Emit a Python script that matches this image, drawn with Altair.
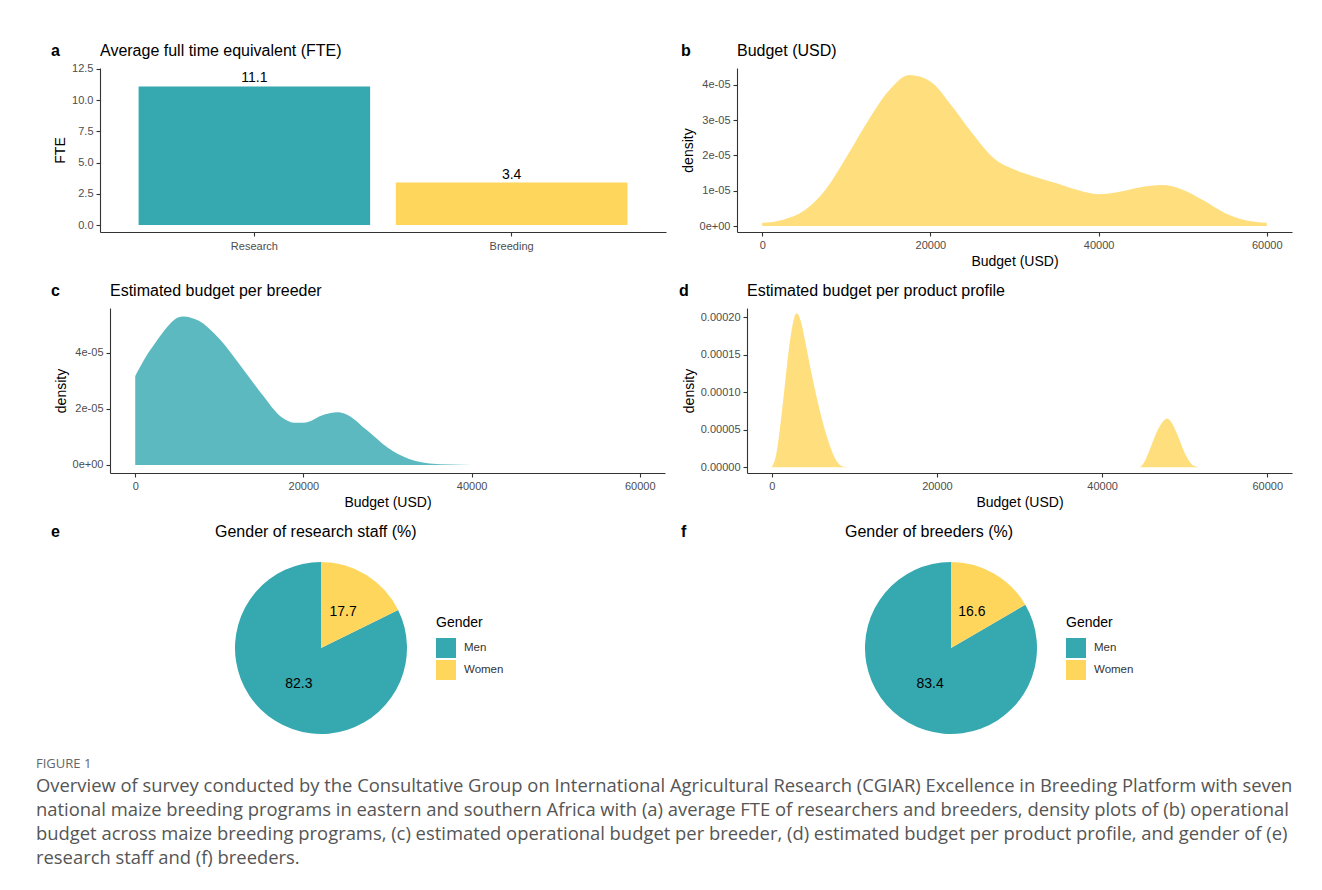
import altair as alt
import pandas as pd

TEAL = "#35A8B0"
YELLOW = "#FFD65C"
FONT = "Liberation Sans"
CAP_FONT = "Open Sans"

# ---- data ----
fte_roles = ["Research", "Breeding"]
fte_values = [11.1, 3.4]

budget_usd = [0, 2500, 5000, 7500, 10000, 12500, 15000, 17500, 20000, 22500, 25000,
              27500, 30000, 32500, 35000, 37500, 40000, 42500, 45000, 47500, 50000,
              52500, 55000, 57500, 60000]
budget_density = [0.09e-5, 0.18e-5, 0.44e-5, 1.02e-5, 1.95e-5, 2.95e-5, 3.82e-5, 4.28e-5,
                  4.10e-5, 3.42e-5, 2.62e-5, 1.93e-5, 1.60e-5, 1.39e-5, 1.21e-5, 1.02e-5,
                  0.90e-5, 0.97e-5, 1.10e-5, 1.16e-5, 1.03e-5, 0.72e-5, 0.37e-5, 0.16e-5,
                  0.09e-5]

breeder_usd = [0, 1250, 2500, 3750, 5000, 5750, 7500, 10000, 12500, 15000, 17500, 19000,
               20000, 22500, 24000, 25000, 27500, 30000, 32500, 35000, 37500, 40000, 60000]
breeder_density = [3.17e-5, 3.85e-5, 4.40e-5, 4.90e-5, 5.25e-5, 5.30e-5, 5.15e-5, 4.50e-5,
                   3.55e-5, 2.55e-5, 1.68e-5, 1.50e-5, 1.50e-5, 1.80e-5, 1.88e-5, 1.82e-5,
                   1.25e-5, 0.62e-5, 0.22e-5, 0.05e-5, 0.01e-5, 0.0, 0.0]

profile_usd = [0, 500, 1250, 2000, 2500, 3000, 3500, 4000, 4700, 5700, 6700, 7650, 8600,
               9500, 44500, 45000, 45700, 46700, 47300, 47900, 48500, 49100, 50100, 51100,
               52000, 60000]
profile_density = [0.0, 1.5e-5, 7.6e-5, 15.0e-5, 18.8e-5, 20.5e-5, 19.5e-5, 17.0e-5, 13.1e-5,
                   8.1e-5, 4.0e-5, 1.2e-5, 0.1e-5, 0.0, 0.0, 0.5e-5, 2.15e-5, 4.9e-5,
                   6.0e-5, 6.5e-5, 5.8e-5, 4.4e-5, 1.7e-5, 0.2e-5, 0.0, 0.0]

genders = ["Men", "Women"]
research_staff_pct = [82.3, 17.7]
breeders_pct = [83.4, 16.6]

caption_head = "FIGURE 1"
caption_lines = [
    "Overview of survey conducted by the Consultative Group on International Agricultural Research (CGIAR) Excellence in Breeding Platform with seven",
    "national maize breeding programs in eastern and southern Africa with (a) average FTE of researchers and breeders, density plots of (b) operational",
    "budget across maize breeding programs, (c) estimated operational budget per breeder, (d) estimated budget per product profile, and gender of (e)",
    "research staff and (f) breeders.",
]

BUDGET_TICKS = [0, 20000, 40000, 60000]
FTE_TICKS = [0, 2.5, 5, 7.5, 10, 12.5]


def note(text, dx, dy, size=16, weight="normal"):
    """Panel letter / panel heading, placed relative to the panel's plot area."""
    return alt.Chart(pd.DataFrame({"t": [text]})).mark_text(
        align="left", baseline="middle", fontSize=size, fontWeight=weight,
        font=FONT, color="black"
    ).encode(x=alt.value(dx), y=alt.value(dy), text="t:N")


def spacer():
    return alt.Chart(pd.DataFrame({"t": [""]})).mark_text().encode(
        text="t:N").properties(width=1, height=1)


SCI = ("datum.value == 0 ? '0e+00' : "
       "format(round(datum.value * 100000), 'd') + 'e-05'")


def density_panel(xs, ys, color, ydomain, yticks, ylabel_expr, yformat,
                  width, height, title, letter, ldx):
    df = pd.DataFrame({"usd": xs, "density": ys})
    yaxis_kwargs = dict(title="density", values=yticks)
    if ylabel_expr:
        yaxis_kwargs["labelExpr"] = ylabel_expr
    else:
        yaxis_kwargs["format"] = yformat
    area = alt.Chart(df).mark_area(color=color, opacity=0.8, interpolate="monotone").encode(
        x=alt.X("usd:Q", scale=alt.Scale(domain=[-3000, 63000], nice=False, zero=False),
                axis=alt.Axis(title="Budget (USD)", values=BUDGET_TICKS, format="d")),
        y=alt.Y("density:Q", scale=alt.Scale(domain=ydomain, nice=False, zero=False),
                axis=alt.Axis(**yaxis_kwargs)),
        y2=alt.datum(0),
    )
    return alt.layer(area, note(letter, ldx, -17, weight="bold"), note(title, 0, -17)).properties(
        width=width, height=height)


# ---- panel a ----
df_a = pd.DataFrame({"role": fte_roles, "fte": fte_values})
xa = alt.X("role:N", sort=fte_roles,
           scale=alt.Scale(paddingInner=0.1, paddingOuter=0.15),
           axis=alt.Axis(title=None, labelAngle=0, labelPadding=4))
ya = alt.Y("fte:Q", scale=alt.Scale(domain=[-0.56, 12.58], nice=False, zero=False),
           axis=alt.Axis(title="FTE", values=FTE_TICKS, format=".1f"))
bars_a = alt.Chart(df_a).mark_bar().encode(
    x=xa, y=ya, y2=alt.datum(0),
    color=alt.Color("role:N", scale=alt.Scale(domain=fte_roles, range=[TEAL, YELLOW]),
                    legend=None),
)
labels_a = alt.Chart(df_a).mark_text(baseline="bottom", dy=-1, fontSize=14, font=FONT,
                                     color="black").encode(
    x=xa, y=ya, text=alt.Text("fte:Q", format=".1f"),
)
panel_a = alt.layer(bars_a, labels_a, note("a", -49, -17, weight="bold"),
                    note("Average full time equivalent (FTE)", 0, -17)).properties(
    width=566, height=164)

panel_b = density_panel(budget_usd, budget_density, YELLOW, [-0.17e-5, 4.48e-5],
                        [0, 1e-5, 2e-5, 3e-5, 4e-5], SCI, None,
                        555, 164, "Budget (USD)", "b", -56)
panel_c = density_panel(breeder_usd, breeder_density, TEAL, [-0.29e-5, 5.6e-5],
                        [0, 2e-5, 4e-5], SCI, None,
                        555, 165, "Estimated budget per breeder", "c", -59)
panel_d = density_panel(profile_usd, profile_density, YELLOW, [-0.0000075, 0.000212],
                        [0, 0.00005, 0.0001, 0.00015, 0.0002], None, ".5f",
                        545, 165, "Estimated budget per product profile", "d", -68)


def pie_panel(values, title, letter):
    df = pd.DataFrame({"gender": genders, "pct": values})
    base = alt.Chart(df).encode(
        theta=alt.Theta("pct:Q", stack=True),
        order=alt.Order("gender:N", sort="descending"),
    )
    arcs = base.mark_arc(outerRadius=86).encode(
        color=alt.Color("gender:N", scale=alt.Scale(domain=genders, range=[TEAL, YELLOW]),
                        legend=alt.Legend(title="Gender", orient="none", legendX=221,
                                          legendY=54))
    )
    text = base.mark_text(radius=42, fontSize=14, font=FONT, color="black").encode(
        text=alt.Text("pct:Q", format=".1f"))
    return alt.layer(arcs, text, note(letter, -164, -30, weight="bold"),
                     note(title, 0, -30)).properties(width=212, height=172)


panel_e = pie_panel(research_staff_pct, "Gender of research staff (%)", "e")
panel_f = pie_panel(breeders_pct, "Gender of breeders (%)", "f")

row1 = alt.hconcat(spacer(), alt.hconcat(panel_a, panel_b, spacing=15), spacing=0)
row2 = alt.hconcat(spacer(), alt.hconcat(panel_c, panel_d, spacing=14), spacing=0)
row3 = alt.hconcat(
    spacer(),
    alt.hconcat(panel_e, panel_f, spacing=177).resolve_scale(color="independent")
    .resolve_legend(color="independent"),
    spacing=0,
).resolve_scale(color="independent")

chart = alt.vconcat(
    row1, row2, row3, spacing=15,
    title=alt.TitleParams(
        text=caption_head, subtitle=caption_lines, orient="bottom", anchor="start",
        frame="bounds", offset=24, dx=-14, font=CAP_FONT, fontSize=13,
        fontWeight="normal", color="#666666", subtitleFont=CAP_FONT,
        subtitleFontSize=18.4, subtitleColor="#555555", subtitleLineHeight=24,
        subtitlePadding=6,
    ),
).resolve_scale(color="independent").properties(
    padding={"top": 35, "left": 28, "right": 5, "bottom": 5}
).configure_view(stroke=None).configure_axis(
    grid=False, domainColor="#333333", domainWidth=1.1, tickColor="#333333",
    tickSize=4, tickWidth=1.1, labelColor="#4D4D4D", labelFontSize=11, labelFont=FONT,
    titleFont=FONT, titleFontSize=14, titleColor="black", titleFontWeight="normal",
    labelPadding=3, labelOverlap=False,
).configure_legend(
    titleFont=FONT, titleFontSize=14, titleFontWeight="normal", titleColor="black",
    labelFont=FONT, labelFontSize=11.5, labelColor="#333333", symbolType="square",
    symbolSize=400, symbolStrokeWidth=0, symbolOpacity=1, rowPadding=2,
    labelOffset=8, titlePadding=8,
)

chart.save("out.html", embed_options={"renderer": "svg", "actions": False})
